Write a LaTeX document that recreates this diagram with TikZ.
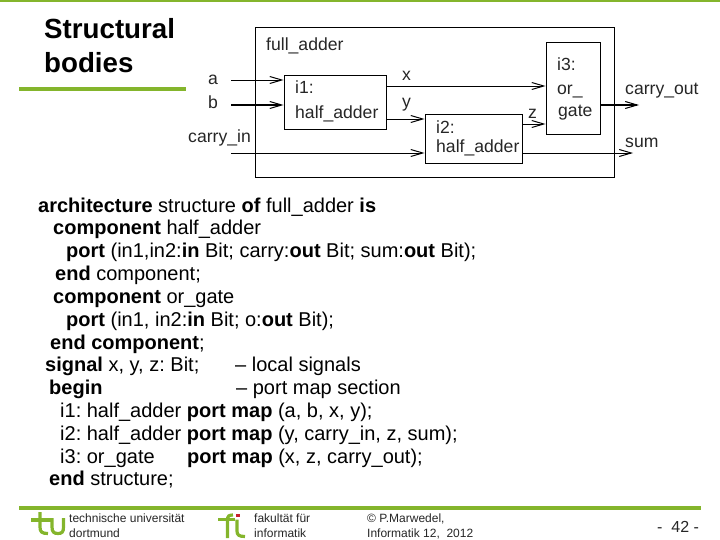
\documentclass[tikz,border=0pt]{standalone}
\usepackage{fontspec}
\setmainfont{Liberation Sans}
\frenchspacing
\usetikzlibrary{arrows.meta}
\definecolor{tugreen}{HTML}{84B52C}
\definecolor{tured}{HTML}{C8202C}
\tikzset{>={Straight Barb[length=12pt,width=7pt,line width=1pt]}}
\tikzstyle{blockbox} = [rectangle, draw=black, line width=0.9pt]
\tikzstyle{wire} = [->, draw=black, line width=0.9pt]
\tikzstyle{wirelabel} = [font=\fontsize{17.6}{20}\selectfont, text=black!85, inner sep=0pt, anchor=base west]
\tikzstyle{codeline} = [font=\fontsize{20}{24}\selectfont, inner sep=0pt, anchor=base west]
\tikzstyle{titleline} = [font=\bfseries\fontsize{27.7}{34}\selectfont, inner sep=0pt, anchor=base west]
\tikzstyle{footlabel} = [font=\fontsize{12}{14}\selectfont, inner sep=0pt, anchor=base west, text=black!85]
\tikzstyle{logostroke} = [draw=tugreen, line width=3.2pt]

\begin{document}
\begin{tikzpicture}[x=1pt, y=-1pt]
\useasboundingbox (0, 0) rectangle (720, 540);

% rules
\fill [tugreen] (0, 0) rectangle (720, 2.5);
\fill [tugreen] (19, 87) rectangle (186, 91);
\fill [tugreen] (19, 506) rectangle (701, 510);

% title
\node [titleline] (Title1) at (44, 39) {Structural};
\node [titleline] (Title2) at (44, 73) {bodies};

% blocks
\node [blockbox, minimum width=358.5pt, minimum height=150pt] (Adder) at (434.75, 102) {};
\node [blockbox, minimum width=102pt, minimum height=54pt] (I1) at (335, 102) {};
\node [blockbox, minimum width=97pt, minimum height=49pt] (I2) at (473.5, 138.5) {};
\node [blockbox, minimum width=54pt, minimum height=92pt] (I3) at (573, 88) {};

% block texts
\node [wirelabel] (AdderName) at (266, 51) {full\_adder};
\node [wirelabel] (I1a) at (295, 94) {i1:};
\node [wirelabel] (I1b) at (295, 119) {half\_adder};
\node [wirelabel] (I2a) at (436, 134) {i2:};
\node [wirelabel] (I2b) at (436, 153) {half\_adder};
\node [wirelabel] (I3a) at (557, 71) {i3:};
\node [wirelabel] (I3b) at (557, 95) {or\_};
\node [wirelabel] (I3c) at (558, 117) {gate};

% free ends of the wires
\coordinate (Ain) at (231, 80);
\coordinate (Bin) at (231, 105);
\coordinate (Cin) at (231, 153);
\coordinate (Cout) at (639, 105);
\coordinate (Sout) at (633, 153);

\draw [wire] (Ain) to (Ain -| I1.west);
\draw [wire, line width=1.3pt] (Bin) to (Bin -| I1.west);
\draw [wire] (Cin) to (Cin -| I2.west);
\draw [wire] (I1.east |- 0, 86) to (I3.west |- 0, 86);
\draw [wire] (I1.east |- 0, 119) to (I2.west |- 0, 119);
\draw [wire] (I2.east |- 0, 124) to (I3.west |- 0, 124);
\draw [wire, line width=1.3pt] (Cout -| I3.east) to (Cout);
\draw [wire] (Sout -| I2.east) to (Sout);

% wire labels
\node [wirelabel] (LabelA) at (208, 85) {a};
\node [wirelabel] (LabelB) at (208, 109) {b};
\node [wirelabel] (LabelC) at (188, 143) {carry\_in};
\node [wirelabel] (LabelX) at (402, 81) {x};
\node [wirelabel] (LabelY) at (402, 108) {y};
\node [wirelabel] (LabelZ) at (528, 119) {z};
\node [wirelabel] (LabelCout) at (625, 95) {carry\_out};
\node [wirelabel] (LabelSum) at (625, 148) {sum};

% code
\node [codeline] (C1) at (38, 212) {\textbf{architecture} structure \textbf{of} full\_adder \textbf{is}};
\node [codeline] (C2) at (53, 235) {\textbf{component} half\_adder};
\node [codeline] (C3) at (66, 257) {\textbf{port} (in1,in2:\textbf{in} Bit; carry:\textbf{out} Bit; sum:\textbf{out} Bit);};
\node [codeline] (C4) at (55, 280) {\textbf{end} component;};
\node [codeline] (C5) at (53, 303) {\textbf{component} or\_gate};
\node [codeline] (C6) at (66, 326) {\textbf{port} (in1, in2:\textbf{in} Bit; o:\textbf{out} Bit);};
\node [codeline] (C7) at (50, 349) {\textbf{end component};};
\node [codeline] (C8) at (45, 371) {\textbf{signal} x, y, z: Bit;};
\node [codeline] (C8b) at (235, 371) {-- local signals};
\node [codeline] (C9) at (49, 394) {\textbf{begin}};
\node [codeline] (C9b) at (236, 394) {-- port map section};
\node [codeline] (C10) at (60, 417) {i1: half\_adder \textbf{port map} (a, b, x, y);};
\node [codeline] (C11) at (60, 440) {i2: half\_adder \textbf{port map} (y, carry\_in, z, sum);};
\node [codeline] (C12) at (60, 463) {i3: or\_gate};
\node [codeline] (C12b) at (187, 463) {\textbf{port map} (x, z, carry\_out);};
\node [codeline] (C13) at (49, 485) {\textbf{end} structure;};

% footer
\node [footlabel] (Tu1) at (69, 522) {technische universität};
\node [footlabel] (Tu2) at (69, 537) {dortmund};
\node [footlabel] (Fi1) at (254, 522) {fakultät für};
\node [footlabel] (Fi2) at (254, 537) {informatik};
\node [footlabel] (Au1) at (367, 522) {© P.Marwedel,};
\node [footlabel] (Au2) at (367, 537) {Informatik 12,\ \ 2012};
\node [font=\fontsize{16}{20}\selectfont, inner sep=0pt, anchor=base west, text=black!85] (PageNo) at (657, 532) {-\ \ 42 -};

% tu logo
\draw [logostroke] (31, 520) -- (51, 520);
\draw [logostroke] (40, 512) -- (40, 527) .. controls (40, 532) and (42, 533.5) .. (48, 533.5);
\draw [logostroke] (52, 518) -- (52, 527) .. controls (52, 532) and (54, 533.5) .. (58, 533.5) .. controls (62, 533.5) and (63.5, 532) .. (63.5, 527) -- (63.5, 518);

% fi logo
\draw [logostroke] (218, 519.5) -- (235, 519.5);
\draw [logostroke] (233, 515) .. controls (229, 515) and (227.5, 516) .. (227.5, 520) -- (227.5, 538);
\draw [logostroke] (237, 519.5) -- (237, 531) .. controls (237, 535) and (239, 536.5) .. (245, 536.5);
\fill [tured] (235.5, 513.5) rectangle (239.5, 517);
\end{tikzpicture}
\end{document}
